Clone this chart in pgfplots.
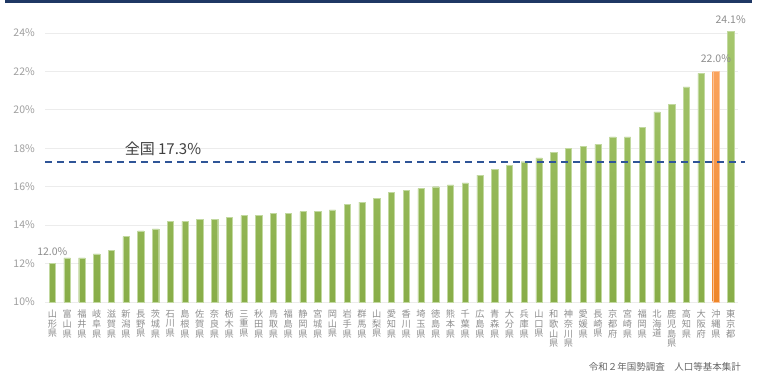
\documentclass[border=0pt]{standalone}
\usepackage{pgfplots}
\pgfplotsset{compat=1.18}
\usepackage{fontspec}
\setmainfont{Noto Sans CJK JP}
\definecolor{gtop}{HTML}{A6C76E}
\definecolor{gbot}{HTML}{88AD48}
\definecolor{gedge}{HTML}{C2D9A0}
\definecolor{otop}{HTML}{FAA35C}
\definecolor{obot}{HTML}{EF8629}
\definecolor{oedge}{HTML}{F9C39A}
\definecolor{navy}{HTML}{1F3864}
\definecolor{dashc}{HTML}{2F5597}
\definecolor{gridc}{HTML}{ECECEC}
\definecolor{tickc}{HTML}{A0A0A0}
\definecolor{labc}{HTML}{8E8E8E}
\begin{document}
\begin{tikzpicture}
\fill[white] (0pt,0pt) rectangle (762pt,374pt);
\path[use as bounding box] (0pt,0pt) rectangle (762pt,374pt);
\fill[navy] (5pt,370.5pt) rectangle (752pt,374pt);
\begin{axis}[
  at={(45pt,72pt)}, anchor=south west,
  scale only axis, width=693pt, height=288.2pt,
  xmin=0.5, xmax=47.5, ymin=10, ymax=25,
  clip=false,
  axis line style={draw=none},
  major tick length=0pt,
  ymajorgrids, grid style={gridc, line width=0.8pt},
  ytick={10,12,14,16,18,20,22,24},
  yticklabels={10\%,12\%,14\%,16\%,18\%,20\%,22\%,24\%},
  yticklabel style={anchor=east, inner sep=0pt, xshift=-10pt, text=tickc, font=\fontsize{10.5}{12}\selectfont},
  xtick={1,...,47},
  xticklabels={
    {山\\形\\県},{富\\山\\県},{福\\井\\県},{岐\\阜\\県},{滋\\賀\\県},{新\\潟\\県},{長\\野\\県},{茨\\城\\県},{石\\川\\県},{島\\根\\県},
    {佐\\賀\\県},{奈\\良\\県},{栃\\木\\県},{三\\重\\県},{秋\\田\\県},{鳥\\取\\県},{福\\島\\県},{静\\岡\\県},{宮\\城\\県},{岡\\山\\県},
    {岩\\手\\県},{群\\馬\\県},{山\\梨\\県},{愛\\知\\県},{香\\川\\県},{埼\\玉\\県},{徳\\島\\県},{熊\\本\\県},{千\\葉\\県},{広\\島\\県},
    {青\\森\\県},{大\\分\\県},{兵\\庫\\県},{山\\口\\県},{和\\歌\\山\\県},{神\\奈\\川\\県},{愛\\媛\\県},{長\\崎\\県},{京\\都\\府},{宮\\崎\\県},
    {福\\岡\\県},{北\\海\\道},{鹿\\児\\島\\県},{高\\知\\県},{大\\阪\\府},{沖\\縄\\県},{東\\京\\都}},
  xticklabel style={anchor=north, inner sep=0pt, yshift=-8pt, align=center, text=labc, font=\fontsize{9.2}{9.6}\selectfont},
  ybar, bar width=6.3pt,
]
\addplot[bar shift=0pt, draw=gedge, line width=0.4pt, top color=gtop, bottom color=gbot] coordinates {
(1,12.0)(2,12.3)(3,12.3)(4,12.5)(5,12.7)(6,13.4)(7,13.7)(8,13.8)(9,14.2)(10,14.2)
(11,14.3)(12,14.3)(13,14.4)(14,14.5)(15,14.5)(16,14.6)(17,14.6)(18,14.7)(19,14.7)(20,14.8)
(21,15.1)(22,15.2)(23,15.4)(24,15.7)(25,15.8)(26,15.9)(27,16.0)(28,16.1)(29,16.2)(30,16.6)
(31,16.9)(32,17.1)(33,17.3)(34,17.5)(35,17.8)(36,18.0)(37,18.1)(38,18.2)(39,18.6)(40,18.6)
(41,19.1)(42,19.9)(43,20.3)(44,21.2)(45,21.9)(47,24.1)};
\addplot[bar shift=0pt, draw=oedge, line width=0.4pt, top color=otop, bottom color=obot] coordinates {(46,22.0)};
\addplot[sharp plot, no marks, dashc, line width=1.7pt, dash pattern=on 7pt off 5pt] coordinates {(0.52,17.3)(47.98,17.3)};
\node[text=labc, font=\fontsize{10.5}{12}\selectfont] at (axis cs:1,12.6) {12.0\%};
\node[text=labc, font=\fontsize{10.5}{12}\selectfont] at (axis cs:46,22.65) {22.0\%};
\node[text=labc, font=\fontsize{10.5}{12}\selectfont] at (axis cs:47,24.7) {24.1\%};
\node[text=black!75, font=\fontsize{15}{17}\selectfont, anchor=west, inner sep=0pt] at (axis cs:5.9,17.95) {全国 17.3\%};
\end{axis}
\node[anchor=east, inner sep=0pt, text=black!60, font=\fontsize{9.5}{11}\selectfont] at (741pt,7pt) {令和２年国勢調査　人口等基本集計};
\end{tikzpicture}
\end{document}
